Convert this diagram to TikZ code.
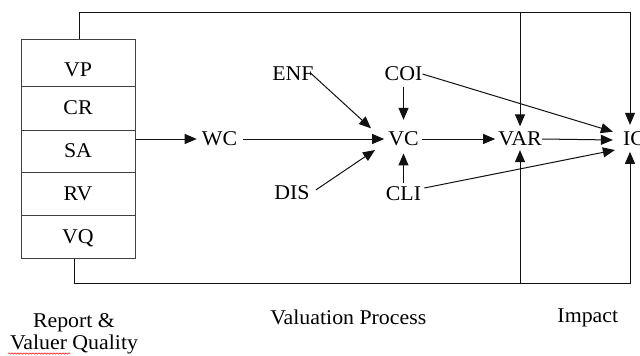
\documentclass[tikz,border=0pt]{standalone}
\usepackage{fontspec}
\setmainfont{Liberation Serif}[FakeStretch=1.04]
\usetikzlibrary{arrows.meta,decorations.pathmorphing}
\definecolor{boxgray}{HTML}{404040}
\definecolor{linec}{HTML}{111111}
\begin{document}
\begin{tikzpicture}[x=1pt,y=-1pt,
  txt/.style={font=\fontsize{21}{22.3}\selectfont},
  lbl/.style={txt, inner sep=0pt, text depth=0pt},
  row/.style={txt, draw=boxgray, line width=1pt, minimum width=114pt, inner sep=0pt, text depth=0pt},
  ln/.style={draw=linec, line width=1pt},
  arr/.style={ln, -{Triangle[length=12pt,width=10pt]}}]
\useasboundingbox (0,0) rectangle (640,356);
\fill[white] (0,0) rectangle (640,356);
% left box
\node[row, minimum height=47pt] (vp) at (78,62.5) {\raisebox{-7pt}[14pt][0pt]{VP}};
\node[row, minimum height=44pt] (cr) at (78,108) {CR};
\node[row, minimum height=42pt] (sa) at (78,151) {SA};
\node[row, minimum height=43pt] (rv) at (78,193.5) {RV};
\node[row, minimum height=43pt] (vq) at (78,236.5) {VQ};
% process nodes
\node[lbl] (wc)  at (219.5,139) {WC};
\node[lbl] (enf) at (293,74) {ENF};
\node[lbl] (coi) at (403.5,74) {COI};
\node[lbl] (vc)  at (403.5,139) {VC};
\node[lbl] (var) at (520,139) {VAR};
\node[lbl] (ic)  at (634,139) {IC};
\node[lbl] (dis) at (292,192.5) {DIS};
\node[lbl] (cli) at (403.5,193.3) {CLI};
% frame corners
\coordinate (tr) at (630,12);
\coordinate (br) at (630,283);
% connectors
\draw[arr, shorten >=5pt] (sa.east |- wc.west) -- (wc.west);
\draw[arr, shorten <=6pt, shorten >=4pt] (wc.east) -- (vc.west);
\draw[arr, shorten <=3.5pt, shorten >=3pt] (vc.east) -- (var.west);
\draw[arr] (var.east) -- ([shift={(-10,1)}]ic.west);
\draw[arr, shorten <=5.7pt, shorten >=12pt] (coi.south) -- (vc.north);
\draw[arr, shorten <=3.4pt, shorten >=7.3pt] (cli.north) -- (vc.south);
\draw[arr] ([shift={(-3,-0.7)}]enf.east) -- ([shift={(-32.5,-10.7)}]vc.center);
\draw[arr] ([shift={(6,-2.5)}]dis.east) -- ([shift={(-28.5,11)}]vc.center);
\draw[arr] (coi.east) -- ([shift={(-10,-7.3)}]ic.west);
\draw[arr] ([shift={(3,-5.3)}]cli.east) -- ([shift={(-8,11)}]ic.west);
% feedback frame
\draw[arr, shorten >=7pt] ([xshift=1pt]vp.north) |- (tr) -- (tr |- ic.north);
\draw[arr, shorten >=5.5pt] (var.north |- tr) -- (var.north);
\draw[arr, shorten >=5.7pt] ([xshift=-4pt]vq.south) |- (br) -- (br |- ic.south);
\draw[arr, shorten >=4pt] (var.south |- br) -- (var.south);
% section captions
\node[txt, align=center, inner sep=0pt] (rq) at (74,334) {Report \&\\Valuer Quality};
\node[lbl, anchor=base] (vpl) at (348.3,324) {Valuation Process};
\node[lbl, anchor=base] (imp) at (587.8,322.7) {Impact};
\draw[red, line width=0.5pt, decorate, decoration={snake, amplitude=0.7pt, segment length=3pt}] (8,353.5) -- (70,353.5);
\end{tikzpicture}
\end{document}
